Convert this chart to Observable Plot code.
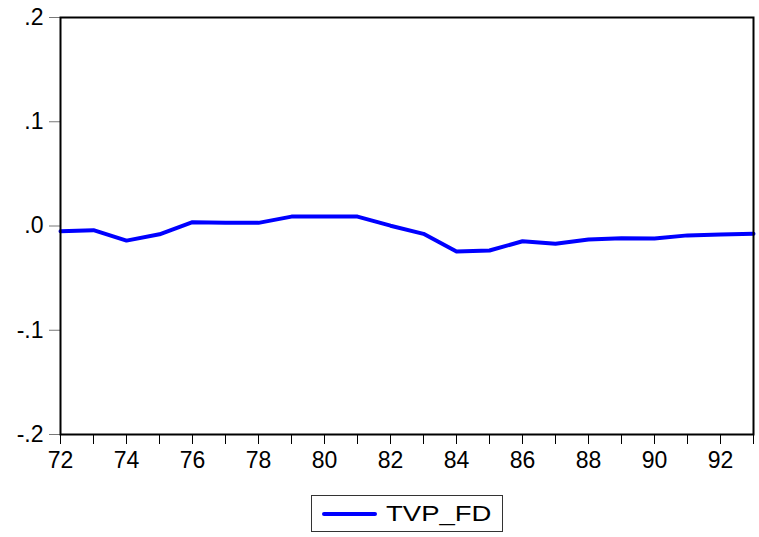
<!DOCTYPE html>
<html>
<head>
<meta charset="utf-8">
<script src="https://cdn.jsdelivr.net/npm/d3@7"></script>
<script src="https://cdn.jsdelivr.net/npm/@observablehq/plot@0.6"></script>
<style>
  body { margin: 0; background: #fff; font-family: "Liberation Sans", Arial, sans-serif; }
  #wrap { position: relative; width: 759px; height: 537px; }
  #legend { position: absolute; left: 311px; top: 495px; width: 192px; height: 37px; border: 1px solid #333; box-sizing: border-box; }
  #legend .swatch { position: absolute; left: 10px; top: 16px; width: 55px; height: 4px; background: #0000ff; border-radius: 2px; }
  #legend .lbl { position: absolute; left: 74px; top: 5px; font-size: 22px; color: #000; transform: scaleX(1.25); transform-origin: left center; }
</style>
</head>
<body>
<div id="wrap"><div id="chart"></div><div id="legend"><div class="swatch"></div><div class="lbl">TVP_FD</div></div></div>
<script>
const years = [72,73,74,75,76,77,78,79,80,81,82,83,84,85,86,87,88,89,90,91,92,93];
const tvpFD = [-0.005,-0.004,-0.014,-0.008,0.0037,0.003,0.003,0.009,0.009,0.009,0.0003,-0.0075,-0.0245,-0.0235,-0.0146,-0.017,-0.013,-0.0117,-0.012,-0.009,-0.0082,-0.0075];
const yTicks = [-0.2,-0.1,0,0.1,0.2];
const xTicks = years;
const xLabelYears = [72,74,76,78,80,82,84,86,88,90,92];

const data = years.map((y, i) => ({year: y, value: tvpFD[i]}));

const fmtY = d => {
  if (Math.abs(d) < 1e-9) return ".0";
  return (d < 0 ? "-" : "") + "." + Math.round(Math.abs(d) * 10);
};

const chart = Plot.plot({
  width: 759,
  height: 470,
  marginLeft: 60,
  marginRight: 6,
  marginTop: 17,
  marginBottom: 36,
  style: { fontFamily: "'Liberation Sans', Arial, sans-serif", background: "white", color: "black", overflow: "visible" },
  x: { domain: [72, 93] },
  y: { domain: [-0.2, 0.2] },
  marks: [
    Plot.axisY({ ticks: yTicks, tickFormat: fmtY, tickSize: 11, tickPadding: 6, fontSize: 23, stroke: "#777", label: null }),
    Plot.axisX({ ticks: xTicks, tickFormat: d => xLabelYears.includes(d) ? String(d) : "", tickSize: 10, tickPadding: 7, fontSize: 23, label: null }),
    Plot.line(data, { x: "year", y: "value", stroke: "#0000ff", strokeWidth: 4 }),
    Plot.frame({ stroke: "black", strokeWidth: 2 })
  ]
});
document.getElementById("chart").appendChild(chart);
</script>
</body>
</html>
